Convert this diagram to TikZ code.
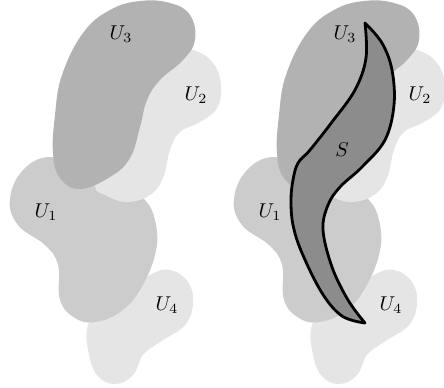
\documentclass[tikz,border=0pt]{standalone}
\usepackage{tikz}

\tikzset{
  blobone/.style={fill=black!20, draw=none},
  blobtwo/.style={fill=black!10, draw=none},
  blobthree/.style={fill=black!30, draw=none},
  surf/.style={fill=black!45, draw=black, line width=1.4pt, line join=round},
}

\begin{document}
\begin{tikzpicture}[x=0.5pt,y=-0.5pt]
\useasboundingbox (0,0) rectangle (444,387);
\foreach \dx/\p in {0/a,224/b}{
\begin{scope}[xshift=\dx*0.5pt]
% U4
\fill[blobtwo] plot[smooth cycle, tension=0.7] coordinates {(150,275) (170,270) (188,282) (193,303) (185,325) (160,342) (143,355) (133,375) (115,384) (97,375) (88,350) (88,325) (100,310) (125,295)};
% U1
\fill[blobone] plot[smooth cycle, tension=0.7] coordinates {(53,157) (25,168) (10,198) (18,225) (45,245) (58,265) (60,300) (75,318) (95,322) (120,312) (140,290) (155,255) (156,225) (145,200) (120,185) (85,170)};
% U2
\fill[blobtwo] plot[smooth cycle, tension=0.7] coordinates {(193,50) (213,63) (221,85) (217,108) (200,122) (180,132) (170,150) (163,178) (150,195) (127,202) (105,195) (95,185) (100,150) (130,90) (170,52)};
% U3
\fill[blobthree] plot[smooth cycle, tension=0.7] coordinates {(80,189) (60,178) (53,153) (55,115) (62,75) (83,33) (110,10) (140,1) (170,3) (190,15) (195,40) (183,60) (160,80) (147,100) (140,127) (130,158) (110,177)};
\node (u3\p) at (121,34) {$U_3$};
\node (u2\p) at (196,95) {$U_2$};
\node (u1\p) at (46,212) {$U_1$};
\node (u4\p) at (167,305) {$U_4$};
\end{scope}
}
% the surface S
\draw[surf] plot[smooth, tension=0.6] coordinates {(365,23) (382,43) (392,70) (394,105) (385,140) (362,167) (340,187) (328,205) (323,230) (332,267) (348,300) (365,323)}
  -- plot[smooth, tension=0.6] coordinates {(365,323) (342,316) (322,293) (302,253) (293,225) (291,200) (293,180) (298,163) (310,150) (332,122) (355,90) (366,58) (365,23)} -- cycle;
\node (s) at (342,150) {$S$};
\end{tikzpicture}
\end{document}
